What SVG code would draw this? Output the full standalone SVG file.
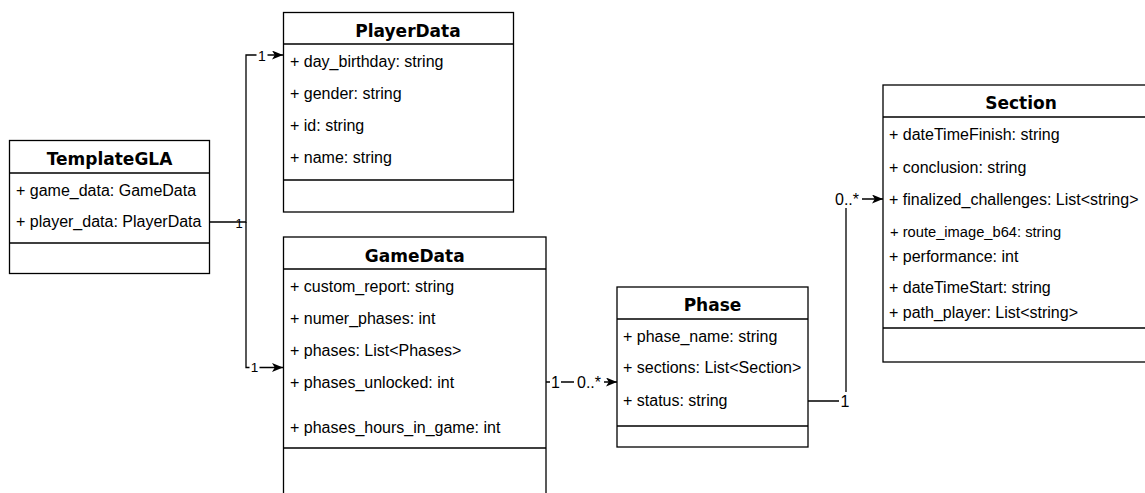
<svg xmlns="http://www.w3.org/2000/svg" width="1145" height="493" viewBox="0 0 1145 493">
<style>
.box{fill:#fff;stroke:#000;stroke-width:1.3}
.sep{stroke:#000;stroke-width:1.3;fill:none}
.title{font-family:"DejaVu Sans",Verdana,sans-serif;font-weight:bold;font-size:17px;fill:#000;text-anchor:middle}
.attr{font-family:"Liberation Sans",Arial,sans-serif;font-size:16px;fill:#000}
.small{font-size:14.7px}
.edge{fill:none;stroke:#000;stroke-width:1.3}
.lbl{font-family:"Liberation Sans",Arial,sans-serif;font-size:16px;fill:#000;text-anchor:middle}
.bg{fill:#fff}
</style>
<defs>
<marker id="arr" viewBox="0 0 11 9" refX="11" refY="4.5" markerWidth="11" markerHeight="9" orient="auto" markerUnits="userSpaceOnUse">
<path d="M0,0 L11,4.5 L0,9 L2.8,4.5 z" fill="#000"/>
</marker>
</defs>
<rect width="1145" height="493" fill="#fff"/>

<g id="connectors">
<path class="edge" d="M209.5 222 H246 V55 H283" marker-end="url(#arr)"/>
<path class="edge" d="M246 222 V367.5 H283" marker-end="url(#arr)"/>
<path class="edge" d="M546 382 H617" marker-end="url(#arr)"/>
<path class="edge" d="M808 401 H846 V199 H883" marker-end="url(#arr)"/>
<text class="lbl" x="239" y="228" style="font-size:13px">1</text>
<rect class="bg" x="256.5" y="48" width="11" height="14"/>
<text class="lbl" x="262" y="60.5" style="font-size:14px">1</text>
<rect class="bg" x="249.5" y="360" width="10" height="14"/>
<text class="lbl" x="254.5" y="372" style="font-size:13.5px">1</text>
<rect class="bg" x="550" y="373" width="11" height="17"/>
<text class="lbl" x="555.5" y="388">1</text>
<rect class="bg" x="574" y="373" width="30" height="17"/>
<text class="lbl" x="589" y="388">0..*</text>
<rect class="bg" x="832" y="189" width="30" height="19"/>
<text class="lbl" x="847" y="204.5">0..*</text>
<rect class="bg" x="839" y="392" width="12" height="17"/>
<text class="lbl" x="845" y="407">1</text>
</g>

<g id="TemplateGLA">
<rect class="box" x="9.5" y="140.5" width="200" height="133"/>
<path class="sep" d="M9.5 173 H209.5 M9.5 243 H209.5"/>
<text class="title" x="109.5" y="165">TemplateGLA</text>
<text class="attr" x="16" y="195.7">+ game_data: GameData</text>
<text class="attr" x="16" y="226.7">+ player_data: PlayerData</text>
</g>

<g id="PlayerData">
<rect class="box" x="283.5" y="12.5" width="230" height="199.5"/>
<path class="sep" d="M283.5 44 H513.5 M283.5 180 H513.5"/>
<text class="title" x="408" y="37">PlayerData</text>
<text class="attr" x="290" y="66.5">+ day_birthday: string</text>
<text class="attr" x="290" y="98.5">+ gender: string</text>
<text class="attr" x="290" y="130.5">+ id: string</text>
<text class="attr" x="290" y="163">+ name: string</text>
</g>

<g id="GameData">
<rect class="box" x="283.5" y="237" width="262.5" height="270"/>
<path class="sep" d="M283.5 269 H546 M283.5 448 H546"/>
<text class="title" x="414.7" y="261.5">GameData</text>
<text class="attr" x="290" y="291.5">+ custom_report: string</text>
<text class="attr" x="290" y="323.5">+ numer_phases: int</text>
<text class="attr" x="290" y="355.5">+ phases: List&lt;Phases&gt;</text>
<text class="attr" x="290" y="388">+ phases_unlocked: int</text>
<text class="attr" x="290" y="433">+ phases_hours_in_game: int</text>
</g>

<g id="Phase">
<rect class="box" x="617" y="287" width="191" height="160"/>
<path class="sep" d="M617 319 H808 M617 426 H808"/>
<text class="title" x="712.5" y="310.7">Phase</text>
<text class="attr" x="623" y="341.5">+ phase_name: string</text>
<text class="attr" x="623" y="373">+ sections: List&lt;Section&gt;</text>
<text class="attr" x="623" y="405.5">+ status: string</text>
</g>

<g id="Section">
<rect class="box" x="883" y="85" width="277" height="277"/>
<path class="sep" d="M883 117 H1160 M883 328 H1160"/>
<text class="title" x="1021" y="109.3">Section</text>
<text class="attr" x="889" y="140">+ dateTimeFinish: string</text>
<text class="attr" x="889" y="172.7">+ conclusion: string</text>
<text class="attr" x="889" y="204.5">+ finalized_challenges: List&lt;string&gt;</text>
<text class="attr small" x="890" y="237.3">+ route_image_b64: string</text>
<text class="attr" x="889" y="261.7">+ performance: int</text>
<text class="attr" x="889" y="293.3">+ dateTimeStart: string</text>
<text class="attr" x="889" y="318.3">+ path_player: List&lt;string&gt;</text>
</g>
</svg>
